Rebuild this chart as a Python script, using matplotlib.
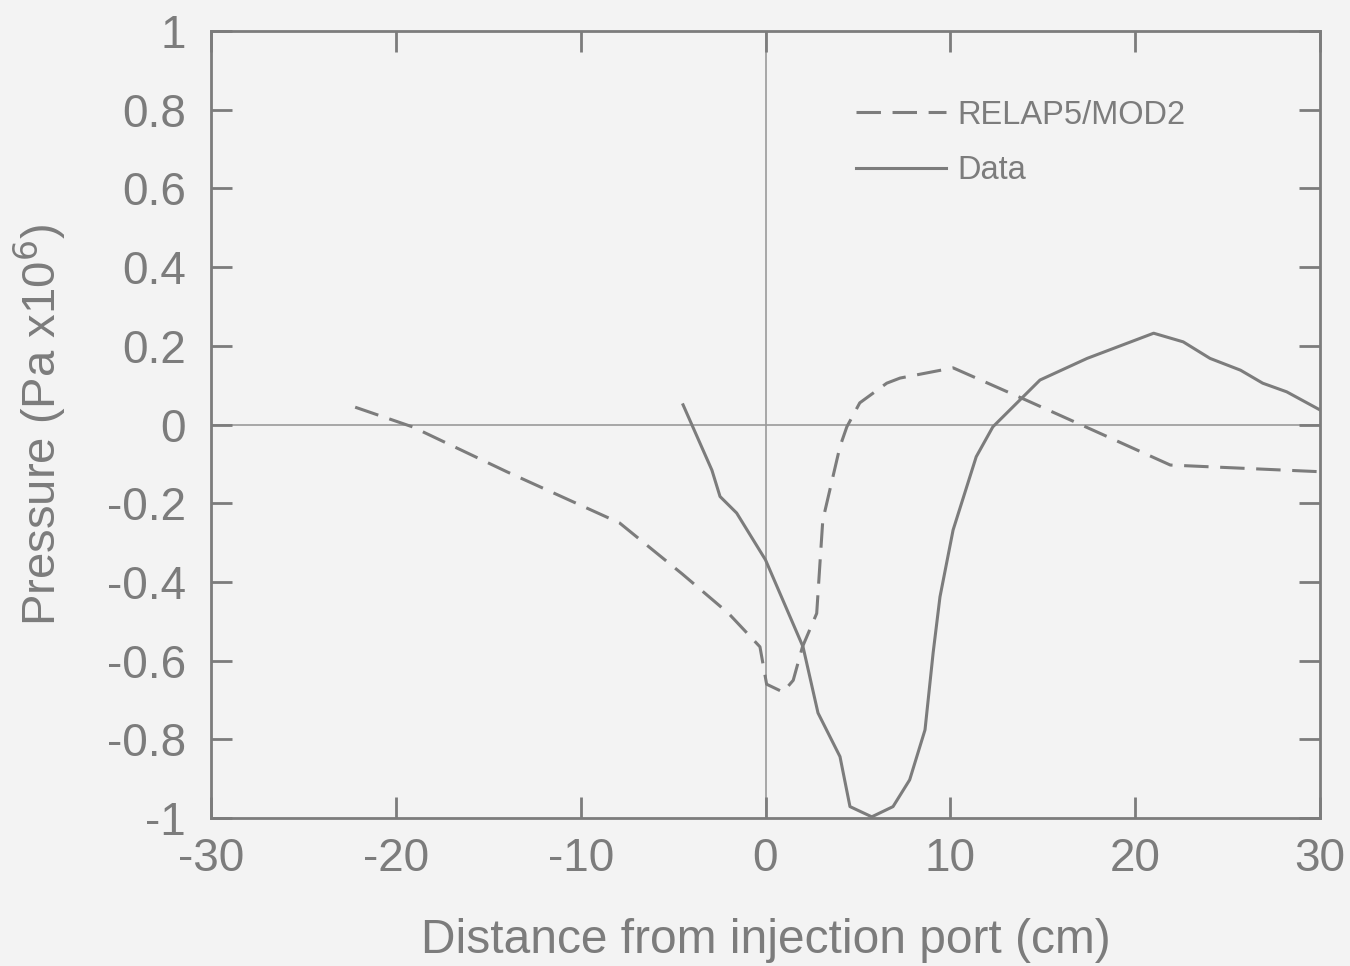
import matplotlib
matplotlib.use("Agg")
import matplotlib.pyplot as plt

# RELAP5/MOD2 calculation (dashed) and measured data (solid)
relap_x = [-22.2, -19.1, -14.0, -7.9, -4.5, -2.0, -0.3, 0.06, 0.95, 1.5, 2.0,
           2.77, 2.95, 3.1, 4.03, 4.4, 5.1, 6.56, 7.28, 10.15, 14.1, 17.7,
           21.9, 30.0]
relap_y = [0.044, -0.006, -0.12, -0.25, -0.38, -0.48, -0.565, -0.66, -0.68,
           -0.65, -0.565, -0.48, -0.35, -0.243, -0.056, -0.006, 0.055, 0.105,
           0.118, 0.144, 0.062, -0.014, -0.103, -0.12]

data_x = [-4.46, -2.9, -2.46, -1.56, 0.0, 2.03, 2.84, 4.03, 4.57, 5.75, 6.9,
          7.8, 8.63, 9.07, 9.44, 10.15, 11.4, 12.3, 14.85, 17.4, 21.0, 22.6,
          24.05, 25.7, 26.9, 28.2, 30.0]
data_y = [0.05, -0.116, -0.183, -0.225, -0.344, -0.565, -0.733, -0.844,
          -0.971, -0.997, -0.971, -0.903, -0.776, -0.58, -0.438, -0.268,
          -0.082, -0.006, 0.113, 0.168, 0.232, 0.21, 0.168, 0.138, 0.105,
          0.083, 0.037]

x_ticks = [-30, -20, -10, 0, 10, 20, 30]
x_labels = ["-30", "-20", "-10", "0", "10", "20", "30"]
y_ticks = [-1, -0.8, -0.6, -0.4, -0.2, 0, 0.2, 0.4, 0.6, 0.8, 1]
y_labels = ["-1", "-0.8", "-0.6", "-0.4", "-0.2", "0", "0.2", "0.4", "0.6",
            "0.8", "1"]

ink = "#7c7c7c"
bg = "#f3f3f3"

plt.rcParams["font.family"] = ["Liberation Sans", "DejaVu Sans"]

fig = plt.figure(figsize=(13.5, 9.66), dpi=100, facecolor=bg)
ax = fig.add_axes([211 / 1350, 1 - 818 / 966, 1109 / 1350, 787 / 966])
ax.set_facecolor(bg)

ax.axhline(0, color="#9a9a9a", lw=1.2, zorder=1)
ax.axvline(0, color="#9a9a9a", lw=1.2, zorder=1)

ax.plot(relap_x, relap_y, color=ink, lw=2.2, dashes=(8, 3.8),
        label="RELAP5/MOD2", zorder=3)
ax.plot(data_x, data_y, color=ink, lw=2.2, label="Data", zorder=3)

ax.set_xlim(-30, 30)
ax.set_ylim(-1, 1)
ax.set_xticks(x_ticks)
ax.set_xticklabels(x_labels)
ax.set_yticks(y_ticks)
ax.set_yticklabels(y_labels)

for s in ax.spines.values():
    s.set_color(ink)
    s.set_linewidth(2)

ax.tick_params(direction="in", length=15, width=2, color=ink,
               top=True, right=True, labelsize=33, labelcolor=ink)
ax.tick_params(axis="y", pad=18)
ax.tick_params(axis="x", pad=14)

ax.set_xlabel("Distance from injection port (cm)", fontsize=34.5, color=ink,
              labelpad=26)
ax.set_ylabel("Pressure (Pa x10$^6$)", fontsize=34, color=ink, labelpad=28)

leg = ax.legend(loc="upper left", bbox_to_anchor=(0.555, 0.95), frameon=False,
                fontsize=23.5, handlelength=2.75, handletextpad=0.37,
                labelspacing=0.75, labelcolor=ink)

fig.savefig("out.png", dpi=100, facecolor=bg)
